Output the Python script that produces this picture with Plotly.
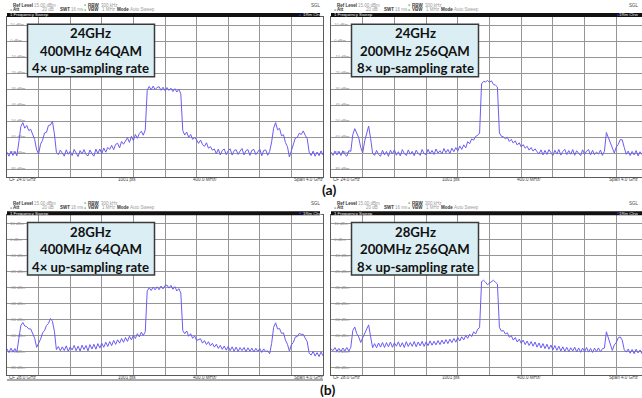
import plotly.graph_objects as go

W, H = 642, 398

# Sweep grid: 161 points over the 4 GHz span (25 MHz step), offsets from CF in GHz
sweep_offset_ghz = [round(-2 + 0.025 * i, 3) for i in range(161)]

# Trace levels in dBm, one list per measurement
level_24g_400m = [
    -69.5, -72.0, -68.8, -71.5, -69.0, -71.8,
    -63.0, -53.5, -51.0, -54.5, -52.8, -56.0, -55.2, -59.0, -61.5, -68.0,
    -70.5, -64.5, -62.0, -57.5, -57.0, -52.8, -52.5, -50.2, -58.0, -69.5,
    -71.0, -68.2, -70.5, -72.0, -68.0, -70.8, -68.9, -71.6, -67.8, -70.2,
    -72.2, -68.5, -70.6, -67.9, -70.9, -71.8, -68.1, -70.4, -72.0, -67.6,
    -70.3, -67.5, -70.4, -66.9, -69.5,
    -66.5, -67.8, -65.2, -67.9, -64.6, -63.9, -66.8, -62.8, -64.5, -62.5,
    -60.5, -63.4, -59.6, -62.2, -58.4, -60.8, -57.8, -56.4, -58.9, -55.6,
    -30.8, -28.4, -30.5, -28.2, -30.4, -29.0, -28.6, -30.8, -28.9, -31.0,
    -29.1, -30.9, -29.5, -31.6, -29.8, -31.9, -30.2, -33.0,
    -56.0, -58.8, -56.9, -60.2, -58.4, -61.5, -60.3, -61.8, -64.0, -61.9,
    -64.8, -65.8, -63.6, -67.0, -66.0, -68.2, -67.5,
    -70.5, -67.6, -71.2, -68.4, -67.5, -71.0, -68.6, -67.4, -71.3, -68.5,
    -67.9, -70.9, -68.8, -67.2, -71.2, -68.5, -67.9, -71.5, -68.3, -67.8,
    -71.0, -69.0, -67.6, -71.7, -68.4, -68.1, -71.4, -69.0,
    -63.0, -54.5, -51.0, -55.5, -54.6, -59.2, -58.6, -63.5, -66.0, -72.5,
    -68.0, -64.8, -60.6, -60.2, -57.6, -58.4, -56.2, -58.9, -61.0, -69.5,
    -71.6, -68.8, -72.0, -69.4, -71.7, -68.7, -71.3,
]

level_24g_200m = [
    -69.5, -71.5, -68.8, -71.2, -69.0, -71.6, -68.6, -70.9, -72.0, -68.5, -69.0,
    -58.5, -54.8, -58.2, -60.5, -66.5, -70.0, -62.5, -58.0, -53.2, -61.0, -70.2,
    -71.5, -68.4, -70.9, -72.0, -68.3, -71.2, -69.0, -72.1, -68.2, -70.6,
    -68.0, -71.4, -69.2, -71.8, -67.9, -70.3, -71.6, -68.1, -70.8, -69.0,
    -71.7, -68.2, -70.2, -71.5, -67.8, -70.4, -71.0, -67.7, -70.6, -68.4,
    -70.9, -67.5, -70.0, -68.6, -70.6, -67.2, -69.8, -67.8, -70.3,
    -67.0, -69.2, -66.6, -68.8, -65.6, -67.8, -64.9, -66.8, -62.9, -64.2,
    -61.2, -62.0, -59.6, -59.0, -57.5,
    -26.8, -25.2, -25.6, -24.7, -25.8, -24.9, -27.2, -27.6, -28.8,
    -57.5, -59.5, -59.8, -61.2, -60.2, -62.8, -61.5, -63.8, -62.4, -65.0,
    -63.6, -66.2, -64.8, -67.0, -65.8, -68.2, -66.6, -68.8, -67.4, -69.2,
    -70.6, -68.0, -71.2, -68.4, -70.9, -67.9, -70.0, -71.5, -68.3, -70.7,
    -67.8, -71.3, -69.0, -67.7, -71.0, -68.5, -70.8, -67.9, -71.4, -68.6,
    -70.2, -71.6, -68.0, -70.9, -68.8, -67.9, -71.2, -68.3, -71.0, -69.4,
    -70.6, -68.2, -71.5, -68.9,
    -57.2, -60.5, -63.0, -67.2, -70.0, -66.2, -64.6, -61.6, -61.8, -66.5, -70.8,
    -68.8, -71.6, -69.0, -71.2, -68.5, -71.8, -69.2, -70.9, -68.7, -71.4, -69.6,
]

level_28g_400m = [
    -68.5, -70.8, -68.0, -70.4, -68.3, -70.6,
    -62.0, -54.0, -52.0, -54.2, -54.6, -56.0, -56.0, -59.6, -61.8, -67.5,
    -65.0, -62.4, -58.5, -57.0, -53.8, -52.6, -49.5, -51.2, -57.5, -69.0,
    -67.0, -69.6, -67.2, -69.5, -66.6, -70.0, -67.3, -69.2, -66.3, -69.6,
    -66.8, -69.8, -66.2, -68.9, -66.4, -69.7, -65.8, -68.6, -65.6, -68.7,
    -65.2, -68.0, -65.0, -67.5, -64.3,
    -67.0, -63.9, -66.5, -63.2, -65.7, -62.8, -64.9, -62.0, -64.4, -61.4,
    -63.8, -60.6, -62.9, -59.9, -62.0, -59.0, -61.0, -58.0, -60.1, -57.8,
    -32.2, -30.3, -32.0, -29.9, -31.6, -29.7, -31.5, -29.2, -31.0, -28.9,
    -28.6, -30.5, -28.8, -31.2, -29.6, -32.3, -30.8, -33.5,
    -57.0, -59.0, -57.3, -60.6, -59.0, -61.9, -60.4, -63.2, -62.8, -62.2,
    -64.9, -63.3, -65.8, -64.0, -66.6, -65.0, -67.4, -65.6, -68.2, -66.3,
    -68.8, -66.7, -69.3, -67.0, -69.6, -67.2, -69.9, -67.4, -70.1, -67.7,
    -69.6, -67.6, -70.3, -67.8, -69.9, -68.0, -70.4, -68.1, -70.1, -68.3,
    -70.7, -68.5, -70.2, -69.7,
    -71.5, -65.0, -55.0, -52.2, -56.0, -55.8, -58.8, -58.5, -63.0, -65.6,
    -69.8, -66.0, -64.4, -61.0, -60.8, -58.8, -59.4, -59.4, -61.8, -64.0,
    -71.2, -72.4, -70.0, -73.0, -70.8, -73.3, -70.5, -72.8,
]

level_28g_200m = [
    -68.5, -69.6, -67.7, -70.0, -68.2, -70.1, -67.9, -69.7, -67.6, -70.0, -67.5,
    -57.0, -54.8, -59.0, -61.0, -64.5, -61.5, -59.0, -55.5, -53.5, -61.0, -67.8,
    -65.2, -67.8, -64.8, -67.4, -64.5, -67.6, -64.6, -67.2, -64.2, -67.5,
    -64.7, -66.8, -64.1, -67.3, -64.6, -67.6, -64.0, -67.0, -64.5, -66.9,
    -63.9, -67.2, -64.2, -66.6, -63.8, -66.9, -64.1, -66.5, -63.5, -66.2,
    -63.7, -66.0, -63.3, -65.8, -63.0, -65.4, -62.7, -65.2, -62.4, -64.6,
    -62.0, -64.3, -61.4, -63.6, -60.9, -62.9, -60.2, -61.9, -59.3, -60.8,
    -57.8, -59.2, -56.2, -55.2,
    -26.5, -25.6, -26.8, -28.4, -27.4, -26.2, -25.6, -26.8, -28.0,
    -55.0, -57.4, -57.0, -59.2, -58.4, -61.2, -60.2, -63.0, -61.4, -64.2,
    -62.4, -65.0, -63.0, -65.8, -63.6, -66.4, -63.9, -66.8, -64.2, -67.4,
    -64.8, -67.9, -65.2, -68.3, -65.6, -68.7, -66.1, -69.1, -66.4, -69.4,
    -66.8, -69.8, -67.2, -70.0, -67.5, -70.2, -67.8, -69.8, -67.4, -70.4,
    -67.9, -70.6, -68.0, -70.3, -67.6, -70.5, -68.2, -70.7, -68.0, -70.2,
    -67.9, -70.3, -68.4, -68.0,
    -57.8, -62.0, -65.5, -69.5, -66.0, -64.5, -61.5, -61.0, -63.0, -69.0, -70.5,
    -68.6, -71.2, -68.9, -71.5, -68.7, -71.0, -69.2, -71.6, -68.9, -71.1, -69.8,
]

center_freq_ghz = [24.0, 24.0, 28.0, 28.0]
cf_labels = ["CF 24.0 GHz", "CF 24.0 GHz", "CF 28.0 GHz", "CF 28.0 GHz"]
box_text = [
    ["24GHz", "400MHz 64QAM", "4× up-sampling rate"],
    ["24GHz", "200MHz 256QAM", "8× up-sampling rate"],
    ["28GHz", "400MHz 64QAM", "4× up-sampling rate"],
    ["28GHz", "200MHz 256QAM", "8× up-sampling rate"],
]
traces = [level_24g_400m, level_24g_200m, level_28g_400m, level_28g_200m]
grid_levels = [10, 0, -10, -20, -30, -40, -50, -60, -70, -80]

# screen geometry of the four analyzer panels (pixels)
panel_left = [7, 331, 7, 331]
panel_right = [323, W, 323, W]
panel_top_off = [0, 0, 198.3, 198.3]
div_px = [31.6, 31.7, 31.6, 31.7]

GRID = "#959595"
FRAME = "#5a5a5a"
TRACE = "#6a5cf2"
SMALL = "Liberation Sans"


def fx(x):
    return x / W


def fy(y):
    return 1 - y / H


fig = go.Figure()
annotations = []
shapes = []


def text(x, y, s, size=4.5, color="#444", anchor="left", family=SMALL):
    annotations.append(dict(
        x=fx(x), y=fy(y), xref="paper", yref="paper", text=s, showarrow=False,
        xanchor=anchor, yanchor="middle", font=dict(size=size, color=color, family=family),
    ))


layout_axes = {}
for k in range(4):
    n = "" if k == 0 else str(k + 1)
    cf = center_freq_ghz[k]
    x0, x1 = panel_left[k], panel_right[k]
    oy = panel_top_off[k]
    top, bot = 17 + oy, 177 + oy
    span_end = cf - 2 + 0.4 * (x1 - x0) / div_px[k]
    is_left = x1 < W

    fig.add_trace(go.Scatter(
        x=[cf + o for o in sweep_offset_ghz], y=traces[k], mode="lines",
        line=dict(color=TRACE, width=1), xaxis="x" + n, yaxis="y" + n,
        hoverinfo="skip",
    ))

    layout_axes["xaxis" + n] = dict(
        domain=[fx(x0), fx(x1)], range=[cf - 2, span_end], anchor="y" + n,
        tickmode="linear", tick0=cf - 2, dtick=0.4, showgrid=True, gridcolor=GRID,
        gridwidth=1, showticklabels=False, ticks="", zeroline=False,
        showline=True, linecolor=FRAME, linewidth=1, mirror=True,
    )
    layout_axes["yaxis" + n] = dict(
        domain=[fy(bot), fy(top)], range=[-85, 15], anchor="x" + n,
        tickvals=grid_levels, ticktext=[f"{v} dBm" for v in grid_levels],
        ticklabelposition="inside", ticks="", ticklabelstandoff=1,
        tickfont=dict(size=4, color="#8a8a8a", family=SMALL),
        showgrid=True, gridcolor=GRID, gridwidth=1, zeroline=False,
        showline=True, linecolor=FRAME, linewidth=1, mirror=is_left,
        layer="below traces",
    )

    # instrument header
    text(x0 + 4, 5 + oy, "<b>Ref Level</b>", color="#333")
    text(x0 + 25, 5 + oy, "15.00 dBm", color="#999")
    text(x0 + 75, 5 + oy, "●", size=3.5, color="#3cb043")
    text(x0 + 79, 5 + oy, "<b>RBW</b>", color="#333")
    text(x0 + 92, 5 + oy, "300 kHz", color="#999")
    if is_left:
        text(x0 + 302, 5 + oy, "SGL", color="#444")
    else:
        text(W - 1, 5 + oy, "SGL", color="#444", anchor="right")
    text(x0 + 1, 9.5 + oy, "●", size=3.5, color="#3cb043")
    text(x0 + 4, 9.5 + oy, "<b>Att</b>", color="#333")
    text(x0 + 33, 9.5 + oy, "20 dB", color="#999")
    text(x0 + 51, 9.5 + oy, "<b>SWT</b>", color="#333")
    text(x0 + 62, 9.5 + oy, "16 ms", color="#999")
    text(x0 + 75, 9.5 + oy, "●", size=3.5, color="#3cb043")
    text(x0 + 79, 9.5 + oy, "<b>VBW</b>", color="#333")
    text(x0 + 93, 9.5 + oy, "1 MHz", color="#999")
    text(x0 + 108, 9.5 + oy, "<b>Mode</b>", color="#333")
    text(x0 + 121, 9.5 + oy, "Auto Sweep", color="#999")

    # measurement window title bar
    bar_end = x0 + 313 if is_left else W
    shapes.append(dict(type="rect", xref="paper", yref="paper",
                       x0=fx(x0), x1=fx(bar_end), y0=fy(17 + oy), y1=fy(13 + oy),
                       fillcolor="#111", line=dict(width=0), layer="above"))
    text(x0 + 1, 15 + oy, "1 Frequency Sweep", size=4.3, color="#f2f2f2")
    if is_left:
        text(x0 + 290, 15 + oy, "●", size=3.5, color="#3a3aff")
        text(x0 + 294, 15 + oy, "1Rm Clrw", size=4.3, color="#e8e8e8")
    else:
        text(W - 21, 15 + oy, "●", size=3.5, color="#3a3aff", anchor="right")
        text(W - 1, 15 + oy, "1Rm Clrw", size=4.3, color="#e8e8e8", anchor="right")

    # footer
    text(x0 + 0, 179.5 + oy, cf_labels[k], size=4.6, color="#444")
    text(x0 + 109, 179.5 + oy, "1001 pts", size=4.6, color="#444")
    text(x0 + 183.5, 179.5 + oy, "400.0 MHz/", size=4.6, color="#444")
    if is_left:
        text(x0 + 285, 179.5 + oy, "Span 4.0 GHz", size=4.6, color="#444")
    else:
        text(W - 1, 179.5 + oy, "Span 4.0 GHz", size=4.6, color="#444", anchor="right")

    # parameter box
    bx0, bx1 = x0 + 20.5, x0 + 147.5
    by0, by1 = 24.2 + oy, 76.7 + oy
    shapes.append(dict(type="rect", xref="paper", yref="paper",
                       x0=fx(bx0), x1=fx(bx1), y0=fy(by1), y1=fy(by0),
                       fillcolor="#dbeef4", line=dict(color="#3a3a3a", width=1.5),
                       layer="above"))
    for j, line in enumerate(box_text[k]):
        text((bx0 + bx1) / 2, 33.3 + oy + 17.5 * j, f"<b>{line}</b>",
             size=13.2, color="#111", anchor="center", family="Lato")

# bottom frame under the lower-left footer
shapes.append(dict(type="line", xref="paper", yref="paper",
                   x0=fx(7), x1=fx(323), y0=fy(380), y1=fy(380),
                   line=dict(color="#555", width=1.2)))

text(329, 189, "<b>(a)</b>", size=14, color="#111", anchor="center", family="Lato")
text(328, 389, "<b>(b)</b>", size=14, color="#111", anchor="center", family="Lato")

fig.update_layout(
    width=W, height=H, margin=dict(l=0, r=0, t=0, b=0),
    paper_bgcolor="white", plot_bgcolor="white", showlegend=False,
    annotations=annotations, shapes=shapes, **layout_axes,
)

fig.write_html("out.html")
